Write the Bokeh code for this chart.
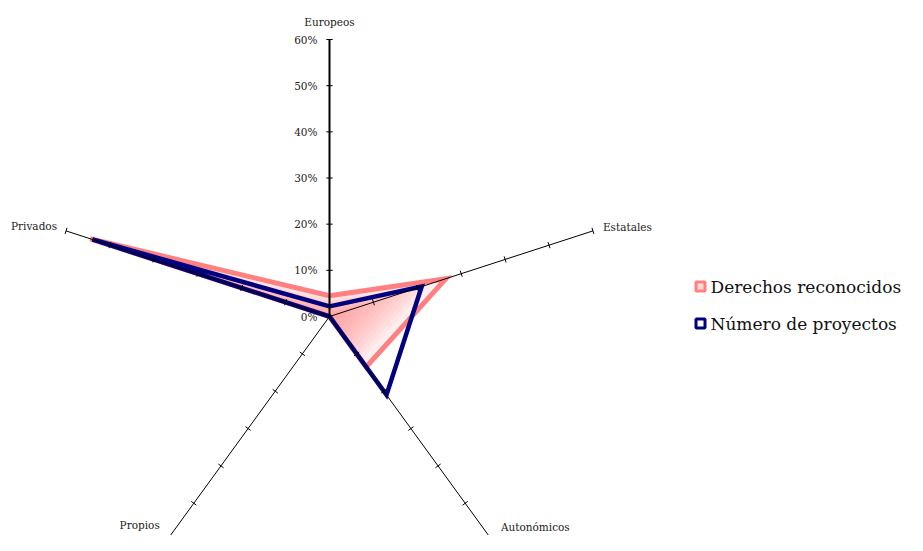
import numpy as np
from bokeh.plotting import figure
from bokeh.models import Range1d
from bokeh.embed import file_html
from bokeh.resources import INLINE
from bokeh.core.properties import value

# ---- data ----
categories = ["Europeos", "Estatales", "Autonómicos", "Propios", "Privados"]
derechos = [4.5, 26.5, 13.5, 0.0, 54.5]      # Derechos reconocidos (%)
proyectos = [2.2, 21.0, 21.0, 0.0, 54.0]     # Número de proyectos (%)
tick_values = [0, 10, 20, 30, 40, 50, 60]
tick_labels = ["0%", "10%", "20%", "30%", "40%", "50%", "60%"]
series_names = ["Derechos reconocidos", "Número de proyectos"]

PINK = "#FF8080"
NAVY = "#000080"
FONT = value("DejaVu Serif")

W, H = 907, 535
RMAX = tick_values[-1]
PX = 277.0 / RMAX          # pixels per percent
cx, cy = 329, 316          # centre in figure pixels

p = figure(width=W, height=H,
           x_range=Range1d(-cx / PX, (W - cx) / PX),
           y_range=Range1d(-(H - cy) / PX, cy / PX),
           output_backend="svg", toolbar_location=None,
           x_axis_location=None, y_axis_location=None,
           min_border=0)
p.grid.visible = False
p.outline_line_color = None

n = len(categories)
ang = np.deg2rad(90 - 72 * np.arange(n))
ux, uy = np.cos(ang), np.sin(ang)


def poly(vals, s=1.0):
    v = np.asarray(vals, float) * s
    return list(v * ux), list(v * uy)

# gradient-like fill for the first series (stacked, shrinking translucent patches)
for s in np.linspace(1.0, 0.06, 15):
    xs, ys = poly(derechos, s)
    p.patch(xs, ys, fill_color=PINK, fill_alpha=0.07, line_color=None)

# series outlines
for vals, col, lw in [(derechos, PINK, 5), (proyectos, NAVY, 4.5)]:
    xs, ys = poly(vals)
    p.line(xs + [xs[0]], ys + [ys[0]], line_color=col, line_width=lw,
           line_join="miter")

# spokes
for k in range(n):
    p.line([0, RMAX * ux[k]], [0, RMAX * uy[k]], line_color="black",
           line_width=2 if k == 0 else 1)

# tick marks on every spoke
half = 3.2 / PX
txs, tys = [], []
for k in range(n):
    px_, py_ = -uy[k], ux[k]
    for t in tick_values[1:]:
        bx, by = t * ux[k], t * uy[k]
        txs.append([bx - half * px_, bx + half * px_])
        tys.append([by - half * py_, by + half * py_])
p.multi_line(txs, tys, line_color="black", line_width=1)

# value labels along the first spoke
p.text(x=[0] * len(tick_values), y=tick_values, text=tick_labels,
       x_offset=-12, text_align="right", text_baseline="middle",
       text_font=FONT, text_font_size="10.5px", text_color="#222222")

# category labels
offs = [(0, -18, "center"), (10, -4, "left"), (43, -14, "center"),
        (-27, -16, "center"), (-9, -5, "right")]
for k in range(n):
    dx, dy, al = offs[k]
    p.text(x=[RMAX * ux[k]], y=[RMAX * uy[k]], text=[categories[k]],
           x_offset=dx, y_offset=dy, text_align=al, text_baseline="middle",
           text_font=FONT, text_font_size="10.5px", text_color="#222222")

# legend
lx = (700 - cx) / PX
ly = [(cy - 286) / PX, (cy - 323) / PX]
for i, (col, inner) in enumerate([(PINK, "#FFD8D8"), (NAVY, "white")]):
    p.scatter([lx], [ly[i]], marker="square", size=9, line_width=3,
              line_color=col, fill_color=inner)
    p.text(x=[lx], y=[ly[i]], text=[series_names[i]], x_offset=10,
           text_align="left", text_baseline="middle", text_font=FONT,
           text_font_size="17px", text_color="#111111")

open("out.html", "w").write(file_html(p, INLINE))
